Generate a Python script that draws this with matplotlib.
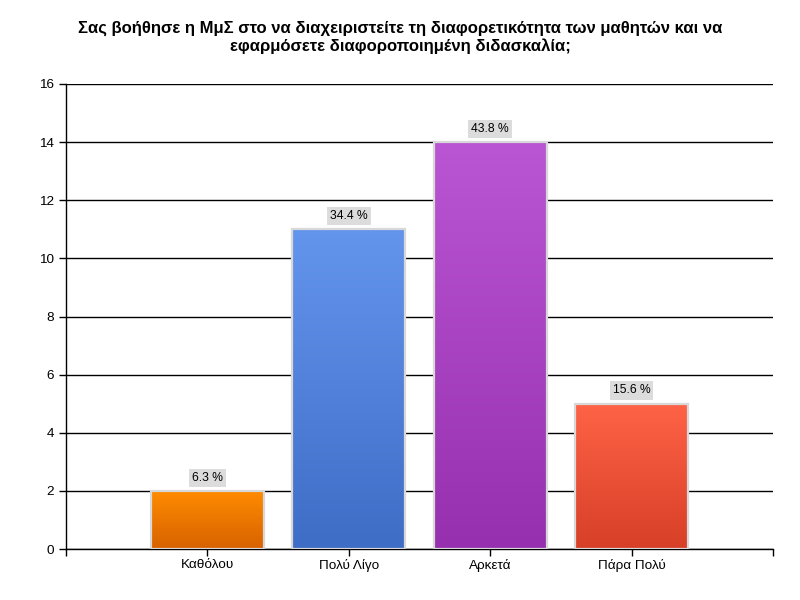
import numpy as np
import matplotlib
matplotlib.use('Agg')
import matplotlib.pyplot as plt
from matplotlib.colors import LinearSegmentedColormap
from matplotlib.patches import Rectangle

plt.rcParams['font.family'] = ['Liberation Sans', 'DejaVu Sans']

categories = ['Καθόλου', 'Πολύ Λίγο', 'Αρκετά', 'Πάρα Πολύ']
counts = [2, 11, 14, 5]
pct_labels = ['6.3 %', '34.4 %', '43.8 %', '15.6 %']
top_colors = ['#FF8C00', '#6495ED', '#BA55D3', '#FF6347']
bottom_colors = ['#D86200', '#3E6DC6', '#9630AE', '#D73F27']

title = ('Σας βοήθησε η ΜμΣ στο να διαχειριστείτε τη διαφορετικότητα των μαθητών και να\n'
         'εφαρμόσετε διαφοροποιημένη διδασκαλία;')

fig = plt.figure(figsize=(8, 6), dpi=100)
ax = fig.add_axes([66 / 800, 1 - 549 / 600, 707 / 800, 465 / 600])

bar_w = 0.8
xs = np.arange(1, len(categories) + 1)
grad = np.linspace(0, 1, 256).reshape(-1, 1)

for x, h, lab, c1, c2 in zip(xs, counts, pct_labels, top_colors, bottom_colors):
    cmap = LinearSegmentedColormap.from_list('g', [c2, c1])
    ax.imshow(grad, cmap=cmap, origin='lower', aspect='auto',
              extent=[x - bar_w / 2, x + bar_w / 2, 0, h], zorder=3)
    ax.add_patch(Rectangle((x - bar_w / 2, 0), bar_w, h, fill=False,
                           edgecolor='#D8D8D8', linewidth=1.6, zorder=4))
    ax.annotate(lab, (x, h), xytext=(0, 9.5), textcoords='offset points',
                ha='center', va='center', fontsize=8.7, zorder=5,
                bbox=dict(boxstyle='square,pad=0.25', fc='#DCDCDC', ec='none'))

ax.set_xlim(0, 5)
ax.set_ylim(0, 16)
ax.set_yticks(range(0, 17, 2))
ax.set_xticks([0, 1, 2, 3, 4, 5])
ax.set_xticklabels([''] + categories + [''])
ax.tick_params(axis='both', length=5, width=1, labelsize=9.7, color='black')
ax.tick_params(axis='x', pad=2)
ax.yaxis.grid(True, color='black', linewidth=1)
ax.set_axisbelow(True)
for s in ['top', 'right']:
    ax.spines[s].set_visible(False)
ax.spines['left'].set_linewidth(1)
ax.spines['bottom'].set_linewidth(1)

fig.text(0.5, 1 - 37 / 600, title, ha='center', va='center',
         fontsize=12, fontweight='bold', linespacing=1.2)

fig.savefig('out.png', dpi=100)
